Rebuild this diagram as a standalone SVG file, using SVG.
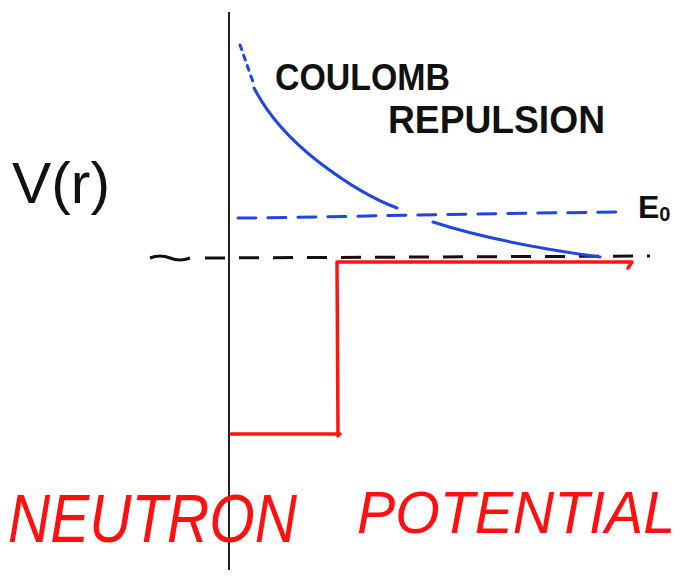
<svg xmlns="http://www.w3.org/2000/svg" width="690" height="578" viewBox="0 0 690 578">
<style>
.ink{font-family:"Liberation Sans","DejaVu Sans",sans-serif;font-weight:bold;fill:#111}
.red{font-family:"Liberation Sans","DejaVu Sans",sans-serif;font-style:italic;fill:#ff1010}
.blue{fill:none;stroke:#1f46e0;stroke-width:3;stroke-linecap:round;stroke-linejoin:round}
.axis{fill:none;stroke:#222;stroke-width:2}
.pot{fill:none;stroke:#ff1414;stroke-width:3.5;stroke-linecap:round;stroke-linejoin:round}
</style>
<rect width="690" height="578" fill="#ffffff"/>
<g id="axis">
<line class="axis" x1="229" y1="12" x2="229" y2="570"/>
<path d="M150,258 Q160,254 170,258 T190,258" fill="none" stroke="#111" stroke-width="3"/>
<line x1="205" y1="258" x2="650" y2="256" stroke="#111" stroke-width="3" stroke-dasharray="20,14"/>
</g>
<g id="connectors">
<path class="blue" d="M240,45 Q246,62 253,82" stroke-dasharray="5,6"/>
<path class="blue" d="M254,88 C268,115 290,140 320,163 C345,182 370,198 397,208"/>
<path class="blue" d="M433,222 C470,234 520,246 600,257"/>
<path class="blue" d="M238,218 C300,218 420,214 625,212" stroke-dasharray="18,12"/>
<path class="pot" d="M231,434 L340,434 M338,436 L337,262 L632,262 L628,268"/>
</g>
<g id="labels">
<text class="ink" x="12" y="203" font-size="58" style="font-weight:normal" textLength="98" lengthAdjust="spacingAndGlyphs">V(r)</text>
<text class="ink" x="275" y="90" font-size="36" textLength="175" lengthAdjust="spacingAndGlyphs">COULOMB</text>
<text class="ink" x="388" y="133" font-size="38" textLength="217" lengthAdjust="spacingAndGlyphs">REPULSION</text>
<text class="ink" x="638" y="218" font-size="32">E<tspan font-size="20" dy="3">0</tspan></text>
<text class="red" x="8" y="542" font-size="68" textLength="289" lengthAdjust="spacingAndGlyphs">NEUTRON</text>
<text class="red" x="357" y="533" font-size="60" textLength="318" lengthAdjust="spacingAndGlyphs">POTENTIAL</text>
</g>
</svg>
